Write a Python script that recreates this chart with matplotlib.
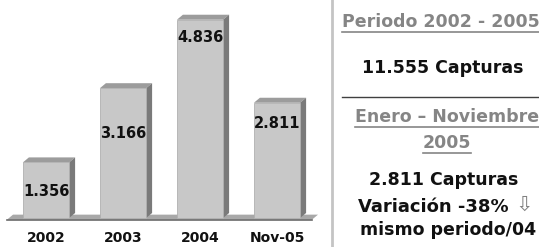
import matplotlib.pyplot as plt
from matplotlib.patches import Polygon
from matplotlib.transforms import blended_transform_factory

categories = ['2002', '2003', '2004', 'Nov-05']
capturas = [1356, 3166, 4836, 2811]
value_labels = ['1.356', '3.166', '4.836', '2.811']

W, H = 539, 247
fig = plt.figure(figsize=(W / 100, H / 100), dpi=100)
fig.patch.set_facecolor('white')

def fx(x):
    return x / W

def fy(y):
    return 1 - y / H

# left chart: bars in data units, axes covers pixels 0..320
ax = fig.add_axes([0, 0, 320 / W, 1])
ax.set_xlim((0 - 46) / 77, (320 - 46) / 77)
ax.set_ylim(-29 / 0.041, (H - 29) / 0.041)
ax.axis('off')

bw = 0.6
dx = 6 / 77      # depth offset to the right
dy = 5 / 0.041   # depth offset upward
front_c, top_c, side_c = '#c8c8c8', '#9c9c9c', '#7a7a7a'

# floor slab
x0, x1 = (7 - 46) / 77, (312 - 46) / 77
ax.add_patch(Polygon([(x0, -40), (x1, -40), (x1 + dx, dy - 40), (x0 + dx, dy - 40)],
                     closed=True, facecolor='#a8a8a8', edgecolor='none', zorder=1))
ax.plot([x0, x1], [-40, -40], color='#6a6a6a', lw=1.2, zorder=1)

bars = ax.bar(range(len(capturas)), capturas, width=bw, color=front_c,
              edgecolor='#b0b0b0', linewidth=0.6, zorder=3)
for b in bars:
    l, r, h = b.get_x(), b.get_x() + b.get_width(), b.get_height()
    ax.add_patch(Polygon([(l, h), (r, h), (r + dx, h + dy), (l + dx, h + dy)],
                         closed=True, facecolor=top_c, edgecolor='none', zorder=2))
    ax.add_patch(Polygon([(r, 0), (r + dx, dy), (r + dx, h + dy), (r, h)],
                         closed=True, facecolor=side_c, edgecolor='none', zorder=2))

label_frac = [0.47, 0.65, 0.91, 0.82]
for i, (v, t) in enumerate(zip(capturas, value_labels)):
    ax.text(i, v * label_frac[i], t, ha='center', va='center', fontsize=10.5,
            fontweight='bold', color='#111111', zorder=4)

trans = blended_transform_factory(ax.transData, ax.transAxes)
for i, c in enumerate(categories):
    ax.text(i, 9 / H, c, transform=trans, ha='center', va='center',
            fontsize=10, fontweight='bold', color='#111111')

# right panel
fig.add_artist(plt.Line2D([fx(332), fx(332)], [0, 1], color='#c4c4c4', lw=2))
fig.add_artist(plt.Line2D([fx(342), fx(539)], [fy(97), fy(97)], color='#404040', lw=1))

grey = '#858585'
under = []
under.append(fig.text(fx(342), fy(22), 'Periodo 2002 - 2005', ha='left', va='center',
                      fontsize=12.5, fontweight='bold', color=grey))
fig.text(fx(443), fy(68), '11.555 Capturas', ha='center', va='center',
         fontsize=12.5, fontweight='bold', color='#111111')
under.append(fig.text(fx(355), fy(117), 'Enero \u2013 Noviembre', ha='left', va='center',
                      fontsize=12.5, fontweight='bold', color=grey))
under.append(fig.text(fx(447), fy(143), '2005', ha='center', va='center',
                      fontsize=12.5, fontweight='bold', color=grey))
fig.text(fx(444), fy(180), '2.811 Capturas', ha='center', va='center',
         fontsize=12.5, fontweight='bold', color='#111111')
fig.text(fx(358), fy(207), 'Variaci\u00f3n -38%', ha='left', va='center',
         fontsize=13, fontweight='bold', color='#111111')
fig.text(fx(515), fy(205), '\u21e9', ha='left', va='center',
         fontsize=15, color='#808080')
fig.text(fx(448), fy(230), 'mismo periodo/04', ha='center', va='center',
         fontsize=12.5, fontweight='bold', color='#111111')

fig.canvas.draw()
r = fig.canvas.get_renderer()
for t in under:
    bb = t.get_window_extent(renderer=r)
    y = bb.y0 - 1
    fig.add_artist(plt.Line2D([bb.x0 / W, min(bb.x1, W) / W], [y / H, y / H],
                              color=grey, lw=1.2))

fig.savefig('out.png', dpi=100)
